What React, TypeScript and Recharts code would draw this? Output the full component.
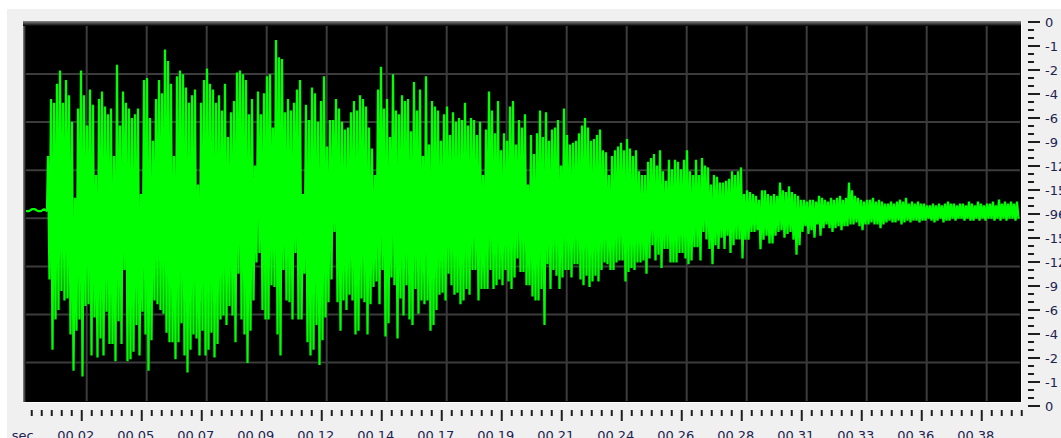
import { CartesianGrid, Line, LineChart, XAxis, YAxis } from "recharts";

// amplitude in % of half-height, samples every 1.2 ms (upper/lower peaks interleaved)
const preRoll = [1, 1, 2, 2, 1, 1, 2, 1];

const upper = [
  30, 60, 58, 68, 75, 58, 70, 62, 48, 8,
  55, 75, 62, 46, 65, 57, 20, 60, 64, 56,
  52, 55, 30, 78, 46, 64, 58, 55, 50, 52,
  55, 10, 70, 71, 50, 38, 60, 70, 63, 86,
  80, 68, 30, 72, 75, 73, 66, 58, 62, 65,
  15, 58, 70, 76, 68, 65, 58, 62, 54, 68,
  40, 53, 59, 74, 75, 73, 70, 52, 60, 25,
  64, 52, 63, 72, 73, 45, 91, 82, 81, 53,
  60, 54, 58, 65, 70, 10, 57, 49, 66, 63,
  48, 59, 72, 35, 49, 49, 60, 55, 48, 44,
  45, 53, 59, 54, 62, 60, 56, 45, 34, 20,
  65, 77, 55, 60, 40, 73, 54, 52, 62, 59,
  60, 43, 69, 54, 65, 30, 72, 36, 59, 56,
  54, 38, 52, 56, 41, 53, 48, 50, 49, 58,
  46, 50, 49, 41, 48, 20, 44, 64, 54, 42,
  59, 33, 42, 38, 56, 59, 36, 49, 45, 52,
  15, 41, 31, 42, 54, 40, 53, 38, 44, 45,
  49, 25, 55, 41, 36, 37, 38, 42, 46, 50,
  45, 38, 39, 41, 44, 33, 32, 20, 30, 33,
  35, 37, 33, 39, 34, 30, 33, 22, 20, 20,
  27, 29, 31, 25, 33, 22, 17, 28, 23, 28,
  27, 23, 28, 33, 22, 20, 28, 20, 29, 25,
  24, 15, 20, 19, 16, 16, 17, 18, 22, 20,
  22, 24, 10, 12, 11, 10, 9, 7, 12, 12,
  10, 9, 10, 9, 16, 12, 11, 14, 11, 10,
  9, 7, 7, 6, 7, 7, 6, 9, 8, 7,
  6, 8, 7, 8, 9, 7, 8, 16, 12, 9,
  8, 7, 6, 7, 7, 8, 6, 7, 6, 5,
  5, 6, 5, 6, 7, 6, 8, 5, 6, 5,
  6, 5, 5, 4, 4, 5, 4, 5, 4, 5,
  6, 5, 5, 4, 5, 5, 4, 6, 5, 4,
  6, 5, 4, 5, 5, 6, 4, 7, 5, 6,
  5, 6, 5, 6,
];

const lower = [
  -35, -72, -56, -51, -41, -46, -45, -64, -83, -62,
  -56, -86, -49, -48, -75, -55, -76, -66, -75, -52,
  -69, -69, -78, -57, -69, -30, -78, -77, -73, -59,
  -75, -52, -64, -83, -67, -46, -48, -51, -53, -63,
  -68, -68, -77, -68, -58, -75, -84, -72, -64, -66,
  -75, -62, -75, -72, -63, -76, -69, -56, -54, -59,
  -49, -54, -68, -32, -56, -64, -79, -62, -46, -26,
  -21, -51, -56, -56, -38, -39, -64, -75, -30, -46,
  -47, -56, -21, -56, -56, -32, -68, -75, -72, -59,
  -80, -67, -55, -47, -35, -10, -47, -62, -46, -51,
  -43, -46, -64, -62, -45, -47, -64, -48, -39, -36,
  -48, -30, -65, -58, -34, -38, -66, -45, -54, -38,
  -56, -59, -40, -53, -46, -48, -46, -62, -59, -51,
  -43, -42, -46, -32, -38, -43, -42, -48, -46, -40,
  -43, -30, -30, -46, -40, -40, -40, -30, -40, -38,
  -35, -38, -30, -36, -40, -34, -24, -31, -31, -38,
  -38, -44, -46, -46, -40, -59, -27, -40, -30, -33,
  -40, -34, -30, -30, -34, -27, -27, -35, -38, -33,
  -39, -36, -33, -36, -30, -26, -27, -30, -30, -26,
  -25, -25, -36, -31, -29, -30, -26, -26, -25, -32,
  -24, -17, -25, -22, -29, -19, -19, -26, -26, -26,
  -21, -21, -24, -27, -25, -18, -18, -25, -10, -14,
  -19, -27, -17, -19, -13, -19, -12, -21, -17, -14,
  -14, -24, -14, -14, -10, -10, -9, -19, -14, -12,
  -16, -16, -12, -10, -9, -13, -11, -10, -14, -22,
  -17, -10, -7, -11, -9, -13, -6, -12, -8, -6,
  -8, -10, -8, -7, -9, -7, -7, -6, -6, -5,
  -7, -9, -6, -6, -5, -6, -6, -8, -6, -5,
  -4, -5, -5, -4, -6, -5, -4, -5, -4, -4,
  -5, -4, -4, -3, -4, -5, -4, -3, -5, -4,
  -4, -3, -4, -3, -3, -4, -3, -4, -4, -3,
  -4, -3, -4, -3, -3, -4, -3, -4, -3, -4,
  -3, -3, -4, -3,
];

const timeLabels = [
  "00.02", "00.05", "00.07", "00.09", "00.12", "00.14", "00.17", "00.19",
  "00.21", "00.24", "00.26", "00.28", "00.31", "00.33", "00.36", "00.38",
];

const dbLabels = [
  "0", "-1", "-2", "-4", "-6", "-9", "-12", "-15", "-96",
  "-15", "-12", "-9", "-6", "-4", "-2", "-1", "0",
];

const wave = [
  ...preRoll.map((a, j) => ({ t: j * 1.2, a })),
  ...upper.flatMap((hi, i) => [
    { t: 8.8 + i * 1.2, a: hi },
    { t: 9.4 + i * 1.2, a: lower[i] },
  ]),
];

const timeTicks = Array.from({ length: 100 }, (_, k) => 2.3 + k * 4);
const dbTicks = Array.from({ length: 49 }, (_, k) => k / 3);

const FONT = "'DejaVu Sans', sans-serif";
const TEXT = "#1c2350";

function TimeTick({ x, y, payload }: any) {
  const k = Math.round((payload.value - 2.3) / 4);
  const major = k % 6 === 5;
  return (
    <g>
      <line x1={x} x2={x} y1={y + 9} y2={y + (major ? 20 : 15)} stroke="#1e1e1e" strokeWidth={2} />
      {k === 0 && (
        <text x={x - 20} y={y + 39} fontSize={13} fontFamily={FONT} fill={TEXT}>
          sec
        </text>
      )}
      {major && (
        <text x={x - 6} y={y + 39} textAnchor="middle" fontSize={13} fontFamily={FONT} fill={TEXT}>
          {timeLabels[(k - 5) / 6]}
        </text>
      )}
    </g>
  );
}

function DbTick({ x, y, payload }: any) {
  const k = Math.round(payload.value * 3);
  const major = k % 3 === 0;
  return (
    <g>
      <line x1={x + 8} x2={x + (major ? 20 : 14)} y1={y} y2={y} stroke="#1e1e1e" strokeWidth={2} />
      {major && (
        <text x={x + 25} y={y} dominantBaseline="central" fontSize={13} fontFamily={FONT} fill={TEXT}>
          {dbLabels[k / 3]}
        </text>
      )}
    </g>
  );
}

export default function App() {
  return (
    <div style={{ position: "fixed", left: 0, top: 0, width: 1061, height: 438, background: "#fff", overflow: "hidden" }}>
      <div style={{ position: "absolute", left: 7, top: 9, right: 0, bottom: 0, background: "#f0f0f0" }} />
      <div
        style={{
          position: "absolute",
          left: 23,
          top: 21,
          width: 998,
          height: 381,
          background:
            "linear-gradient(#8c8c8c, #000 5px) top left / 100% 5px no-repeat, linear-gradient(to right, #8c8c8c, #000 3px) top left / 3px 100% no-repeat, #000",
          borderRight: "1px solid #fcfcfc",
          borderBottom: "1px solid #fcfcfc",
        }}
      />
      <div style={{ position: "absolute", left: 0, top: 0 }}>
        <LineChart width={1061} height={438} data={wave} margin={{ top: 26, right: 0, bottom: 0, left: 26 }}>
          <CartesianGrid
            yAxisId="amp"
            stroke="#3c3c3c"
            strokeWidth={2}
            verticalPoints={Array.from({ length: 16 }, (_, k) => 86.7 + 60 * k)}
            horizontalPoints={Array.from({ length: 7 }, (_, k) => 74 + 48.1 * k)}
          />
          <XAxis
            dataKey="t"
            type="number"
            domain={[0, 397.6]}
            allowDataOverflow
            ticks={timeTicks}
            interval={0}
            tick={<TimeTick />}
            tickLine={false}
            axisLine={false}
            tickSize={0}
            tickMargin={0}
            height={37}
          />
          <YAxis yAxisId="amp" hide type="number" domain={[-98.95, 98.42]} allowDataOverflow />
          <YAxis
            yAxisId="db"
            orientation="right"
            type="number"
            domain={[1 / 6, 379 / 24]}
            reversed
            allowDataOverflow
            ticks={dbTicks}
            interval={0}
            tick={<DbTick />}
            tickLine={false}
            axisLine={false}
            tickSize={0}
            tickMargin={0}
            width={41}
          />
          <Line
            yAxisId="amp"
            type="linear"
            dataKey="a"
            stroke="#00ff00"
            strokeWidth={2.3}
            strokeLinejoin="bevel"
            dot={false}
            activeDot={false}
            isAnimationActive={false}
          />
        </LineChart>
      </div>
    </div>
  );
}
